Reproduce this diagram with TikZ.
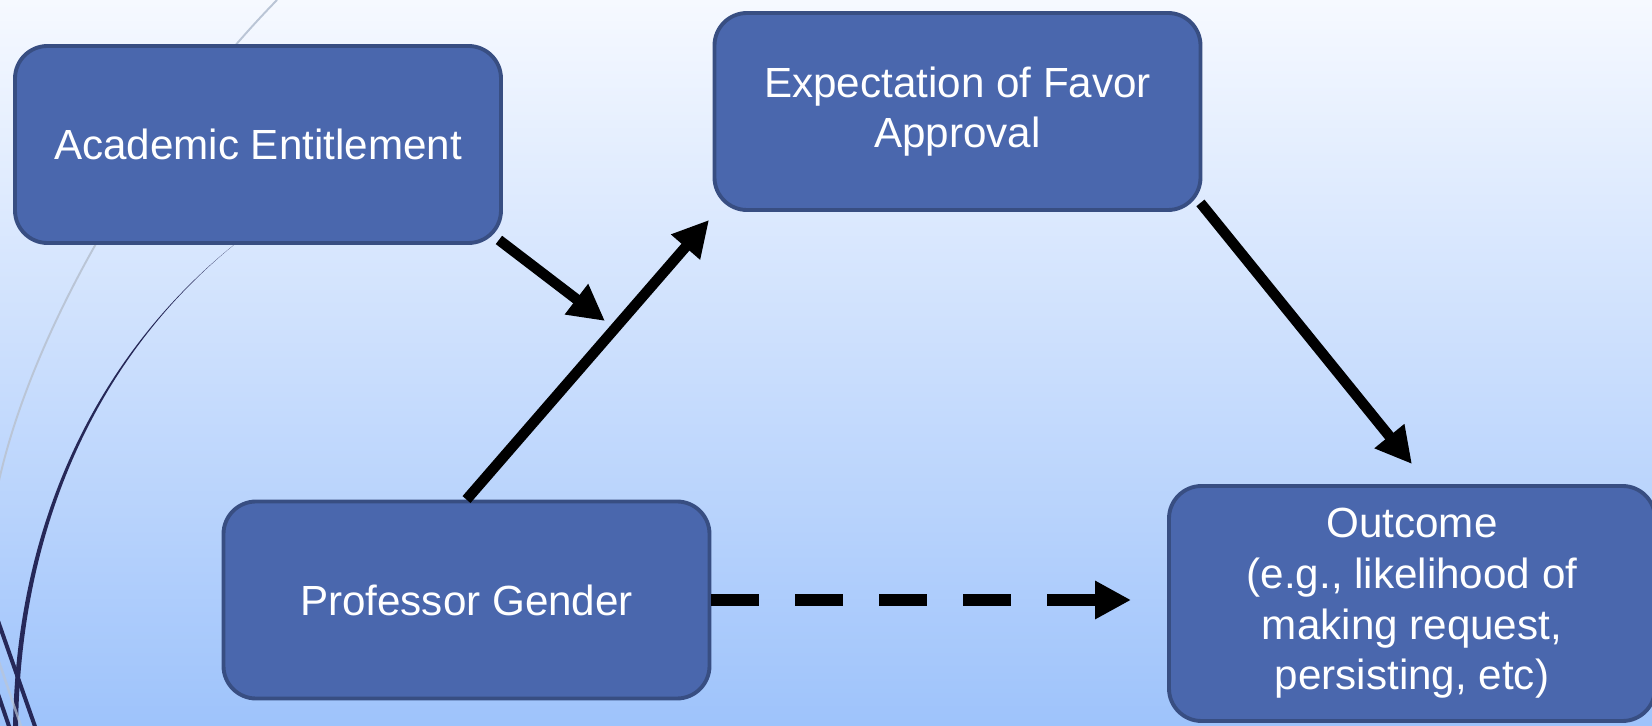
\documentclass[tikz,border=0pt]{standalone}
\usepackage{fontspec}
\setmainfont{Liberation Sans}
\usetikzlibrary{arrows.meta, positioning, calc}
\definecolor{boxblue}{RGB}{74,103,173}
\definecolor{boxedge}{RGB}{56,78,130}
\definecolor{bgtop}{RGB}{246,249,255}
\definecolor{bgbottom}{RGB}{158,195,251}
\definecolor{swirlnavy}{RGB}{38,40,88}
\definecolor{swirlgray}{RGB}{186,197,214}

\tikzset{
  factor/.style={draw=boxedge, line width=2.2pt, fill=boxblue, rounded corners=0.65cm,
    text=white, align=center, font=\fontsize{24}{28.8}\selectfont,
    minimum width=9.72cm, minimum height=3.94cm, inner sep=0pt},
  path arrow/.style={line width=0.21cm, -{Triangle[length=0.72cm, width=0.72cm]}},
}

\begin{document}
\begin{tikzpicture}
  % background
  \shade[top color=bgtop, bottom color=bgbottom] (0,0) rectangle (33.04,14.52);
  \useasboundingbox (0,0) rectangle (33.04,14.52);

  % swirls on the left
  \draw[swirlgray, line width=1.1pt] (5.54,14.52) .. controls (3.0,11.92) and (0.6,7.92) .. (-0.06,4.72);
  \fill[swirlnavy] (4.8,9.72) .. controls (2.0,7.52) and (0.3,4.12) .. (0.26,-0.1)
    -- (0.36,-0.1) .. controls (0.39,4.12) and (2.05,7.54) .. (4.8,9.72) -- cycle;
  \draw[swirlnavy, line width=0.08cm] (-0.06,2.16) -- (0.76,-0.18);
  \draw[swirlnavy, line width=0.08cm] (-0.06,0.70) -- (0.24,-0.18);
  \draw[swirlgray, line width=0.05cm, opacity=0.7] (-0.06,1.40) -- (0.48,-0.18);

  % factors
  \node[factor] (acad) at (5.16,11.63) {Academic Entitlement};
  \node[factor] (expect) at (19.15,12.29) {Expectation of Favor\\Approval};
  \node[factor] (prof) at (9.33,2.52) {Professor Gender};
  \node[factor, minimum height=4.7cm] (outcome) at (28.24,2.45)
    {Outcome\\(e.g., likelihood of\\making request,\\persisting, etc)};

  % paths
  \coordinate (modtip) at (12.10,8.10);
  \draw[path arrow] ([xshift=-0.08cm,yshift=0.1cm]acad.south east) -- (modtip);
  \draw[path arrow] (prof.north) -- ([xshift=-0.07cm,yshift=-0.16cm]expect.south west);
  \draw[path arrow] ([xshift=-0.04cm,yshift=0.18cm]expect.south east) -- ([yshift=0.4cm]outcome.north);
  \draw[path arrow, line width=0.24cm, dash pattern=on 0.96cm off 0.72cm]
    (prof.east) -- ($(prof.east -| outcome.west)+(-0.72,0)$);
\end{tikzpicture}
\end{document}
